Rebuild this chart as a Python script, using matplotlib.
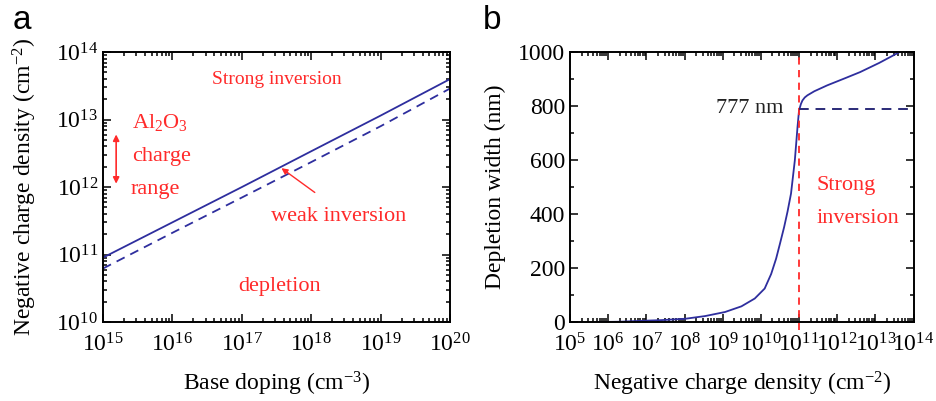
"""Inversion thresholds vs doping (a) and depletion width vs negative charge (b)."""

import matplotlib
import numpy as np

matplotlib.use("Agg")
import matplotlib.pyplot as plt
from matplotlib.ticker import LogLocator, MultipleLocator, NullFormatter

matplotlib.rcParams["font.family"] = ["Liberation Serif", "DejaVu Serif"]
matplotlib.rcParams["mathtext.fontset"] = "custom"
matplotlib.rcParams["mathtext.rm"] = "Liberation Serif"
matplotlib.rcParams["mathtext.it"] = "Liberation Serif:italic"
matplotlib.rcParams["axes.unicode_minus"] = False

# panel a: base doping vs charge density thresholds
doping = [1e15, 1e16, 1e17, 1e18, 1e19, 1e20]
strong_inv = [9.0e10, 3.0e11, 1.0e12, 3.4e12, 1.15e13, 4.0e13]
weak_inv = [6.2e10, 2.1e11, 7.0e11, 2.35e12, 8.0e12, 2.9e13]

# panel b: depletion width vs negative charge density (log10 of charge)
log_charge = [5.73, 6.3, 6.81, 7.4, 8.02, 8.54, 9.06, 9.49, 9.84, 10.10, 10.27,
              10.40, 10.50, 10.61, 10.70, 10.79, 10.89, 10.96, 11.0, 11.05, 11.09,
              11.15, 11.22, 11.40, 11.74, 12.20, 12.60, 13.10, 13.63]
width_nm = [0, 1, 4, 7, 12, 22, 37, 58, 87, 124, 178,
            235, 290, 352, 410, 476, 599, 722, 784, 808, 821,
            832, 840, 855, 877, 903, 926, 960, 1000]
onset_charge = 1e11
w_max = 788

BLUE = "#2e2e9e"
NAVY = "#2a2a78"
RED = "#ff2a2a"
FS = 17


def style(ax):
    for s in ax.spines.values():
        s.set_linewidth(1.4)
    ax.tick_params(which="both", direction="in", top=True, right=True,
                   labelsize=FS, width=1.1)
    ax.tick_params(which="major", length=6)
    ax.tick_params(which="minor", length=3)
    ax.tick_params(axis="x", pad=8)


def main():
    fig = plt.figure(figsize=(9.36, 4.01), dpi=100)
    ax1 = fig.add_axes([0.110, 0.197, 0.371, 0.673])
    ax2 = fig.add_axes([0.609, 0.197, 0.367, 0.673])

    # ---- a ----
    ax1.plot(doping, strong_inv, color=BLUE, lw=1.3)
    ax1.plot(doping, weak_inv, color=BLUE, lw=1.3, ls=(0, (5, 3.5)))
    ax1.set_xscale("log")
    ax1.set_yscale("log")
    ax1.set_xlim(1e15, 1e20)
    ax1.set_ylim(1e10, 1e14)
    for axis in (ax1.xaxis, ax1.yaxis):
        axis.set_major_locator(LogLocator(base=10, numticks=20))
        axis.set_minor_locator(LogLocator(base=10, subs=np.arange(2, 10), numticks=20))
        axis.set_minor_formatter(NullFormatter())
    style(ax1)
    ax1.set_xlabel("Base doping (cm$^{-3}$)", fontsize=FS, labelpad=10)
    ax1.set_ylabel("Negative charge density (cm$^{-2}$)", fontsize=FS, labelpad=12)

    ax1.text(10**17.5, 10**13.6, "Strong inversion", color=RED, fontsize=14,
             ha="center", va="center")
    ax1.text(10**15.42, 10**12.96, "Al$_2$O$_3$", color=RED, fontsize=16,
             ha="left", va="center")
    ax1.text(10**15.42, 10**12.46, "charge", color=RED, fontsize=16,
             ha="left", va="center")
    ax1.text(10**15.40, 10**11.96, "range", color=RED, fontsize=16,
             ha="left", va="center")
    ax1.annotate("", xy=(10**15.19, 10**12.05), xytext=(10**15.19, 10**12.78),
                 arrowprops=dict(arrowstyle="<|-|>", color=RED, lw=1.2,
                                 mutation_scale=9, shrinkA=0, shrinkB=0))
    ax1.text(10**18.4, 10**11.56, "weak inversion", color=RED, fontsize=16,
             ha="center", va="center")
    ax1.annotate("", xy=(10**17.57, 10**12.28), xytext=(10**18.05, 10**11.92),
                 arrowprops=dict(arrowstyle="-|>", color=RED, lw=1.0,
                                 mutation_scale=9, shrinkA=0, shrinkB=0))
    ax1.text(10**17.55, 10**10.52, "depletion", color=RED, fontsize=16,
             ha="center", va="center")

    # ---- b ----
    ax2.plot(10.0 ** np.array(log_charge), width_nm, color=BLUE, lw=1.3)
    ax2.axvline(onset_charge, color=RED, lw=1.3, ls=(0, (4, 3)), clip_on=False,
                ymin=-0.03, ymax=1)
    ax2.plot([onset_charge, 1e14], [w_max, w_max], color=NAVY, lw=1.4,
             ls=(0, (5, 3.5)))
    ax2.set_xscale("log")
    ax2.set_xlim(1e5, 1e14)
    ax2.set_ylim(0, 1000)
    ax2.xaxis.set_major_locator(LogLocator(base=10, numticks=20))
    ax2.xaxis.set_minor_locator(LogLocator(base=10, subs=np.arange(2, 10), numticks=20))
    ax2.xaxis.set_minor_formatter(NullFormatter())
    ax2.yaxis.set_major_locator(MultipleLocator(200))
    ax2.yaxis.set_minor_locator(MultipleLocator(100))
    style(ax2)
    ax2.set_xlabel("Negative charge density (cm$^{-2}$)", fontsize=FS, labelpad=10)
    ax2.set_ylabel("Depletion width (nm)", fontsize=FS, labelpad=9)
    ax2.text(10**9.72, 790, "777 nm", color="#222222", fontsize=16,
             ha="center", va="center")
    ax2.text(10**11.45, 505, "Strong", color=RED, fontsize=16,
             ha="left", va="center")
    ax2.text(10**11.47, 385, "inversion", color=RED, fontsize=16,
             ha="left", va="center")

    fig.text(0.013, 0.95, "a", fontsize=24, family="Liberation Sans", va="center")
    fig.text(0.516, 0.95, "b", fontsize=24, family="Liberation Sans", va="center")

    fig.savefig("out.png")


if __name__ == "__main__":
    main()
